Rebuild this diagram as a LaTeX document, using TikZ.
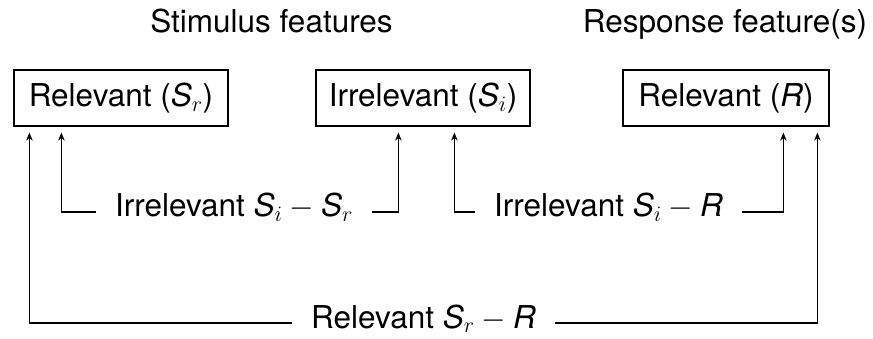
\RequirePackage{fix-cm}
\documentclass[tikz,border=0pt]{standalone}
\usepackage{fontspec}
\setmainfont{TeX Gyre Heros}
\usetikzlibrary{arrows.meta}
\begin{document}
\begin{tikzpicture}[x=1pt,y=-1pt,
  every node/.style={font=\fontsize{31.5}{37}\selectfont},
  fbox/.style={draw,line width=1.2pt,minimum width=214pt,minimum height=56pt,inner sep=0pt},
  lbl/.style={anchor=base,inner xsep=19pt,inner ysep=0pt},
  arr/.style={line width=1.2pt,-{Stealth[length=8pt,width=6.5pt]}}]
\useasboundingbox (0,0) rectangle (873,339);
\node[anchor=base] (h1) at (271.5,33) {Stimulus features};
\node[anchor=base] (h2) at (725,33) {Response feature(s)};
\node[fbox] (b1) at (121,98) {Relevant ($\textit{S}_r$)};
\node[fbox] (b2) at (423,98) {Irrelevant ($\textit{S}_i$)};
\node[fbox,minimum width=206pt] (b3) at (726,98) {Relevant ($\textit{R}$)};
\node[lbl] (l1) at (234,217) {Irrelevant $\textit{S}_i-\textit{S}_r$};
\node[lbl] (l2) at (608.5,217) {Irrelevant $\textit{S}_i-\textit{R}$};
\node[lbl] (l3) at (423.5,328) {Relevant $\textit{S}_r-\textit{R}$};
\draw[arr] ([yshift=5pt]l1.base west) -| ([xshift=48pt,yshift=-6pt]b1.south west);
\draw[arr] ([yshift=5pt]l1.base east) -| ([xshift=83pt,yshift=-6pt]b2.south west);
\draw[arr] ([yshift=5pt]l2.base west) -| ([xshift=139pt,yshift=-6pt]b2.south west);
\draw[arr] ([yshift=5pt]l2.base east) -| ([xshift=161pt,yshift=-6pt]b3.south west);
\draw[arr] ([yshift=5pt]l3.base west) -| ([xshift=16pt,yshift=-6pt]b1.south west);
\draw[arr] ([yshift=5pt]l3.base east) -| ([xshift=195pt,yshift=-6pt]b3.south west);
\end{tikzpicture}
\end{document}
